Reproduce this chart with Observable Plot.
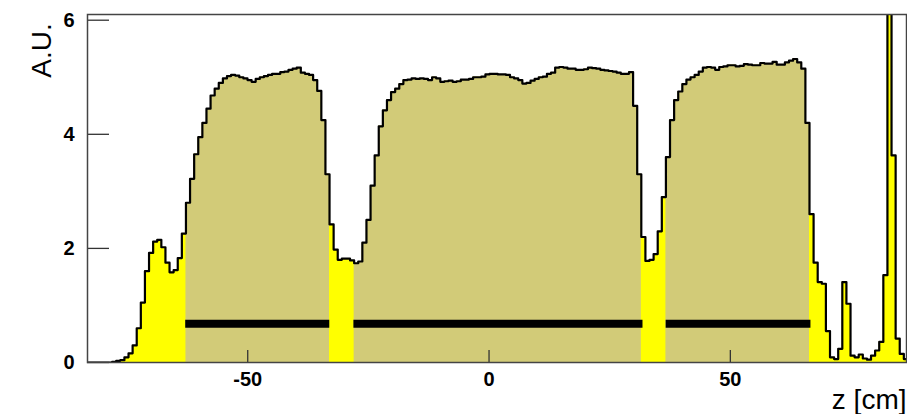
<!DOCTYPE html>
<html>
<head>
<meta charset="utf-8">
<script src="https://cdn.jsdelivr.net/npm/d3@7"></script>
<script src="https://cdn.jsdelivr.net/npm/@observablehq/plot@0.6"></script>
<style>
  html, body { margin: 0; padding: 0; background: #fff; }
  #chart { width: 907px; height: 414px; overflow: hidden; }
</style>
</head>
<body>
<div id="chart"></div>
<script>
// Histogram binning (cm)
const zLow = -83.2;
const binWidth = 0.85;
// Bin contents (A.U.), one per bin from z = -83.2
const counts = [
  0, 0, 0, 0, 0, 0, 0.01, 0.03, 0.04, 0.09,
  0.16, 0.3, 0.6, 1.05, 1.6, 1.92, 2.12, 2.15, 2.02, 1.75,
  1.58, 1.62, 1.83, 2.26, 2.8, 3.22, 3.65, 3.95, 4.2, 4.45,
  4.68, 4.8, 4.9, 4.98, 5.02, 5.04, 5.03, 5.0, 4.98, 4.95,
  4.92, 4.97, 5.0, 5.02, 5.04, 5.06, 5.06, 5.09, 5.1, 5.13,
  5.15, 5.17, 5.08, 5.06, 5.04, 4.95, 4.76, 4.25, 3.3, 2.42,
  1.98, 1.8, 1.82, 1.82, 1.79, 1.74, 1.77, 2.1, 2.5, 3.1,
  3.63, 4.14, 4.42, 4.6, 4.74, 4.8, 4.88, 4.95, 4.96, 4.98,
  4.97, 4.98, 4.97, 4.95, 5.0, 4.98, 4.92, 4.93, 4.94, 4.92,
  4.93, 4.96, 4.96, 4.97, 5.0, 5.0, 5.01, 5.05, 5.06, 5.06,
  5.05, 5.05, 5.04, 5.0, 4.98, 4.95, 4.89, 4.9, 4.94, 4.97,
  5.0, 5.01, 5.06, 5.08, 5.17, 5.18, 5.17, 5.15, 5.15, 5.13,
  5.13, 5.14, 5.17, 5.16, 5.15, 5.13, 5.12, 5.11, 5.1, 5.08,
  5.06, 5.06, 5.09, 4.5, 3.3, 2.2, 1.78, 1.8, 1.9, 2.3,
  2.9, 3.6, 4.25, 4.6, 4.75, 4.88, 4.96, 5.0, 5.04, 5.1,
  5.17, 5.18, 5.17, 5.13, 5.18, 5.19, 5.21, 5.21, 5.19, 5.2,
  5.23, 5.22, 5.21, 5.21, 5.25, 5.24, 5.24, 5.27, 5.22, 5.22,
  5.26, 5.29, 5.32, 5.26, 5.15, 4.2, 2.6, 1.75, 1.41, 1.38,
  0.55, 0.09, 0.06, 0.24, 1.41, 1.03, 0.12, 0.09, 0.14, 0.07,
  0.05, 0.12, 0.21, 0.36, 1.53, 7.5, 3.63, 0.42, 0.15, 0.06
];
// Highlighted (olive) regions and their black bars (cm)
const bandStart = [-62.85, -28.0, 36.7];
const bandEnd = [-33.0, 31.9, 66.7];
const barLevel = 0.68;
// Axes
const xDomain = [-83.2, 86.5];
const yDomain = [0, 6.1];
const xTicks = [-50, 0, 50];
const yTicks = [0, 2, 4, 6];

const pts = counts.map((v, i) => ({z: zLow + i * binWidth, v}));
pts.push({z: zLow + counts.length * binWidth, v: counts[counts.length - 1]});
const inBand = z => bandStart.some((s, k) => z >= s && z < bandEnd[k]);
const olivePts = pts.map(p => ({z: p.z, v: inBand(p.z + binWidth / 2) ? p.v : 0}));
const bars = bandStart.map((s, k) => ({s, e: bandEnd[k], y: barLevel}));

const font = "'Liberation Sans', Arial, Helvetica, sans-serif";

const chart = Plot.plot({
  width: 907,
  height: 414,
  marginLeft: 87,
  marginRight: 1,
  marginTop: 14,
  marginBottom: 52,
  style: {fontFamily: font, background: "#fff", overflow: "visible"},
  x: {domain: xDomain, axis: null},
  y: {domain: yDomain, axis: null},
  marks: [
    Plot.areaY(pts, {x: "z", y: "v", curve: "step-after", fill: "#ffff00", clip: true}),
    Plot.areaY(olivePts, {x: "z", y: "v", curve: "step-after", fill: "#d2cb78", clip: true}),
    Plot.ruleY(bars, {x1: "s", x2: "e", y: "y", stroke: "black", strokeWidth: 8, strokeLinecap: "butt"}),
    Plot.lineY(pts, {x: "z", y: "v", curve: "step-after", stroke: "black", strokeWidth: 2.2, clip: true}),
    Plot.axisY({ticks: yTicks, anchor: "left", tickSize: -22, tickFormat: () => "", label: null, stroke: "#333", strokeWidth: 1.3}),
    Plot.axisY({ticks: yTicks, anchor: "left", tickSize: 0, tickPadding: 13, tickFormat: d => String(d), label: null, fontSize: 20, fontWeight: "bold", fill: "#000"}),
    Plot.axisX({ticks: xTicks, anchor: "bottom", tickSize: -12, tickFormat: () => "", label: null, stroke: "#333", strokeWidth: 1.3}),
    Plot.axisX({ticks: xTicks, anchor: "bottom", tickSize: 0, tickPadding: 9, tickFormat: d => String(d), label: null, fontSize: 20, fontWeight: "bold", fill: "#000"}),
    Plot.text(["A.U."], {frameAnchor: "top-left", dx: -56, dy: 36, rotate: -90, text: d => d, fontSize: 28, fill: "#000", textAnchor: "middle"}),
    Plot.text(["z [cm]"], {frameAnchor: "bottom-right", dx: 0, dy: 46, text: d => d, fontSize: 28, fill: "#000", textAnchor: "end"}),
    Plot.frame({stroke: "#444", strokeWidth: 1.5})
  ]
});
document.getElementById("chart").appendChild(chart);
</script>
</body>
</html>
